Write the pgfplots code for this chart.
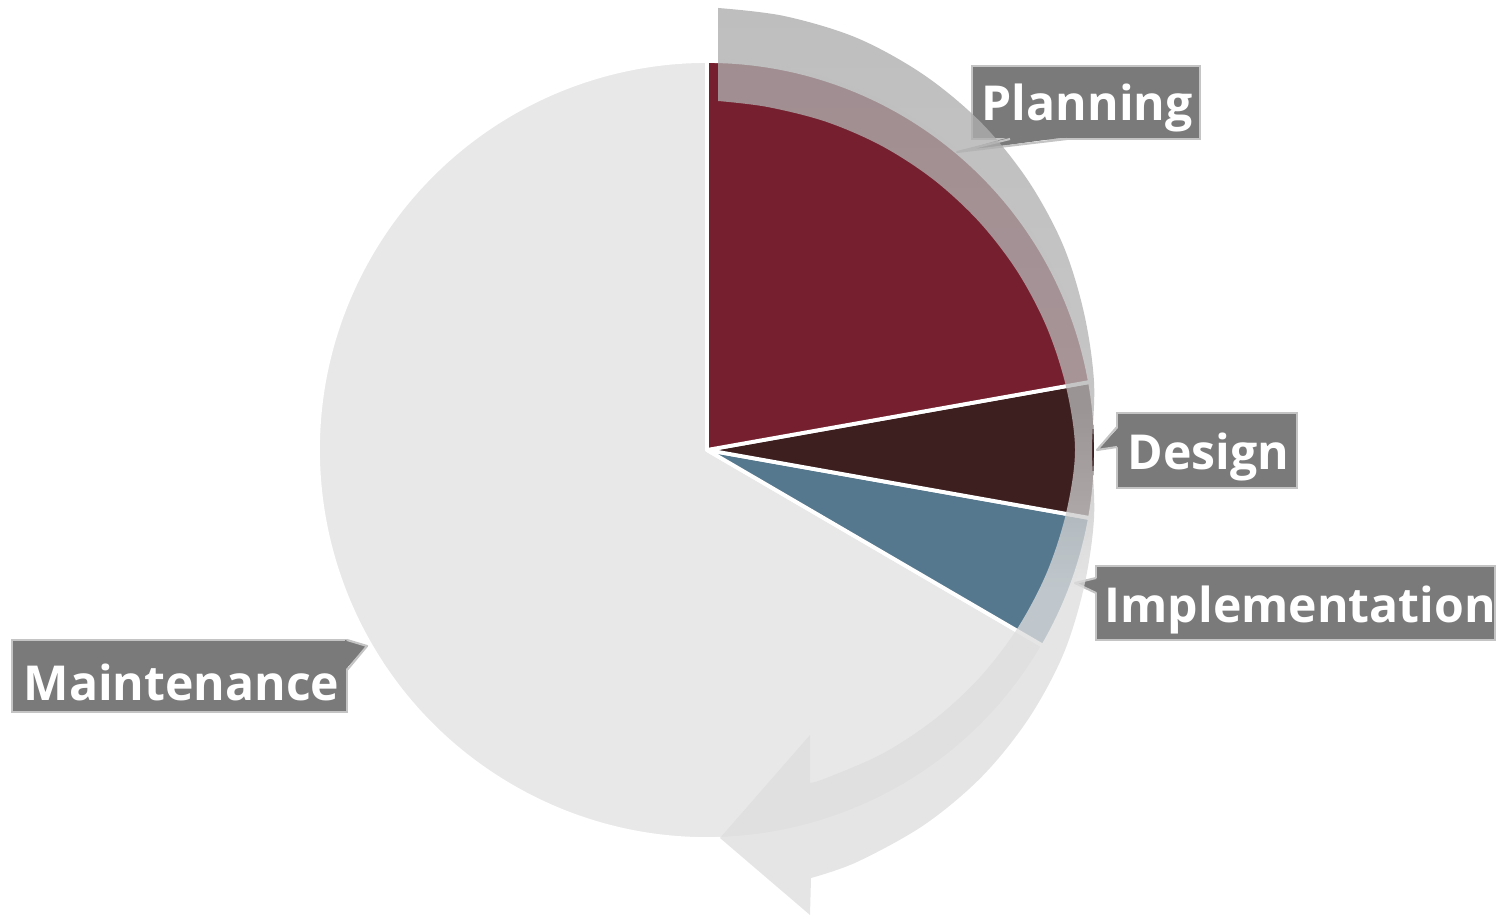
\documentclass[border=0pt]{standalone}
\usepackage{pgfplots}
\pgfplotsset{compat=1.18}
\usepackage{pgfplotstable}
\usepackage{fontspec}
\setmainfont{Open Sans}
\definecolor{cPlan}{HTML}{76202F}
\definecolor{cDes}{HTML}{3D1F20}
\definecolor{cImp}{HTML}{56788E}
\definecolor{cMai}{HTML}{E8E8E8}
\definecolor{cBox}{HTML}{7A7A7A}
\definecolor{cBoxEdge}{HTML}{C4C4C4}
\definecolor{bA}{HTML}{DEDEDE}
\definecolor{bB}{HTML}{B6B6B6}
\definecolor{bC}{HTML}{ACACAC}
\pgfdeclareverticalshading{bandshade}{100bp}{color(0bp)=(bA); color(25bp)=(bA); color(43bp)=(bA); color(53bp)=(bB); color(75bp)=(bC); color(100bp)=(bC)}

\pgfplotstableread{
label value
Planning 22.2
Design 5.6
Implementation 5.6
Maintenance 66.6
}\piedata

\begin{document}
\begin{tikzpicture}
\pgfplotstablegetelem{0}{value}\of\piedata \let\vA\pgfplotsretval
\pgfplotstablegetelem{1}{value}\of\piedata \let\vB\pgfplotsretval
\pgfplotstablegetelem{2}{value}\of\piedata \let\vC\pgfplotsretval
\pgfplotstablegetelem{3}{value}\of\piedata \let\vD\pgfplotsretval
\pgfmathsetmacro\aA{90}
\pgfmathsetmacro\aB{\aA-3.6*\vA}
\pgfmathsetmacro\aC{\aB-3.6*\vB}
\pgfmathsetmacro\aD{\aC-3.6*\vC}
\pgfmathsetmacro\aE{\aD-3.6*\vD}
\begin{axis}[
  scale only axis, width=14.96cm, height=9.18cm,
  xmin=0, xmax=1496, ymin=0, ymax=918,
  hide axis, clip=false,
]
% pie slices
\filldraw[fill=cMai, draw=white, line width=1.1pt, line join=round] (axis cs:707,468) -- ++(\aD:3.89cm) arc[start angle=\aD, end angle=\aE, radius=3.89cm] -- cycle;
\filldraw[fill=cImp, draw=white, line width=1.1pt, line join=round] (axis cs:707,468) -- ++(\aC:3.89cm) arc[start angle=\aC, end angle=\aD, radius=3.89cm] -- cycle;
\filldraw[fill=cDes, draw=white, line width=1.1pt, line join=round] (axis cs:707,468) -- ++(\aB:3.89cm) arc[start angle=\aB, end angle=\aC, radius=3.89cm] -- cycle;
\filldraw[fill=cPlan, draw=white, line width=1.1pt, line join=round] (axis cs:707,468) -- ++(\aA:3.89cm) arc[start angle=\aA, end angle=\aB, radius=3.89cm] -- cycle;

% callouts
\tikzset{cbox/.style={fill=cBox, draw=cBoxEdge, line width=0.6pt},
         cedge/.style={draw=cBoxEdge, line width=0.6pt, line join=round},
         ctext/.style={anchor=base west, inner sep=0pt, text=white, font=\bfseries\fontsize{13.7}{15}\selectfont}}
% Planning
\filldraw[cbox] (axis cs:972,779) rectangle (axis cs:1200,852);
\fill[cBox] (axis cs:1010,781) -- (axis cs:957,766) -- (axis cs:1067,781) -- cycle;
\draw[cedge] (axis cs:1010,779) -- (axis cs:957,766) -- (axis cs:1067,779);
\node[ctext] at (axis cs:981,797) {Planning};
% Design
\filldraw[cbox] (axis cs:1117,430) rectangle (axis cs:1297,505);
\fill[cBox] (axis cs:1119,491) -- (axis cs:1097,468) -- (axis cs:1119,471) -- cycle;
\draw[cedge] (axis cs:1117,491) -- (axis cs:1097,468) -- (axis cs:1117,471);
\node[ctext] at (axis cs:1127,448) {Design};
% Implementation
\filldraw[cbox] (axis cs:1096,278) rectangle (axis cs:1495,352);
\fill[cBox] (axis cs:1098,340) -- (axis cs:1075,335) -- (axis cs:1098,325) -- cycle;
\draw[cedge] (axis cs:1096,340) -- (axis cs:1075,335) -- (axis cs:1096,325);
\node[ctext] at (axis cs:1104,296) {Implementation};
% Maintenance
\filldraw[cbox] (axis cs:12,206) rectangle (axis cs:347,278);
\fill[cBox] (axis cs:345,278) -- (axis cs:367,272) -- (axis cs:345,248) -- cycle;
\draw[cedge] (axis cs:347,278) -- (axis cs:367,272) -- (axis cs:347,248);
\node[ctext] at (axis cs:23,218) {Maintenance};

% curved arrow band
\shade[shading=bandshade, fill opacity=0.78]
  plot[smooth, tension=0.55] coordinates {
   (718,910) (784,902) (857,880) (924,843) (981.5,795) (1028,737.5) (1063,673)
   (1084,605) (1094,536) (1092,468) (1094,400) (1084,331) (1063,263)
   (1028,198.5) (981.5,141) (924,93) (857,56) (811,40)}
  -- (810,3) -- (720,80) -- (810,183) -- (810,135)
  -- plot[smooth, tension=0.55] coordinates {
   (810,135) (826.4,140) (882.4,164.3) (933.7,198) (979,239.7) (1017,289)
   (1046.4,344.5) (1066,404.7) (1075,468) (1066,531.3) (1046.4,591.5)
   (1017,647) (979,696.3) (933.7,738.2) (882.4,771.7) (826.4,796.1)
   (767.5,811) (718,817)}
  -- cycle;
\end{axis}
\pgfresetboundingbox
\path[use as bounding box] (0,0) rectangle (14.96cm,9.18cm);
\end{tikzpicture}
\end{document}
